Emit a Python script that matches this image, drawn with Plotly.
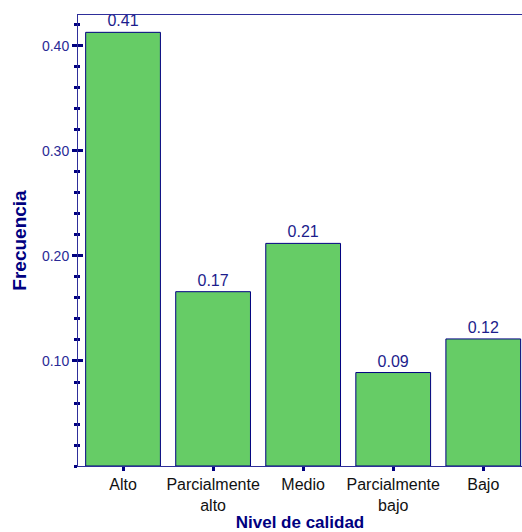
import plotly.graph_objects as go

categories = ["Alto", "Parcialmente<br>alto", "Medio", "Parcialmente<br>bajo", "Bajo"]
frecuencia = [0.413, 0.166, 0.212, 0.089, 0.121]
labels = ["0.41", "0.17", "0.21", "0.09", "0.12"]
ytickvals = [0.1, 0.2, 0.3, 0.4]
yticktext = ["0.10", "0.20", "0.30", "0.40"]

NAVY = "#000080"
AXC = "#2e2e9a"
FONT = "Liberation Sans, Arial, sans-serif"

fig = go.Figure()
fig.add_trace(go.Bar(
    x=list(range(len(categories))), y=frecuencia,
    text=labels, textposition="outside", cliponaxis=False,
    textfont=dict(family=FONT, size=16, color="#1c1c8c"),
    marker=dict(color="#66CC66", line=dict(color=NAVY, width=1)),
    width=0.83, hoverinfo="x+y",
))
fig.add_trace(go.Scatter(
    x=list(range(len(categories))), y=frecuencia, mode="none",
    yaxis="y2", hoverinfo="skip", showlegend=False,
))

yr = [0, 0.4295]
fig.update_layout(
    width=522, height=532,
    margin=dict(l=78, r=0, t=15, b=66, autoexpand=False),
    paper_bgcolor="white", plot_bgcolor="white",
    showlegend=False,
    font=dict(family=FONT),
    xaxis=dict(
        range=[-0.5, 4.43], automargin=False,
        tickvals=list(range(len(categories))), ticktext=categories,
        tickfont=dict(family=FONT, size=16, color="#111111"),
        ticks="outside", ticklen=4, tickwidth=3, tickcolor=NAVY,
        showline=True, linecolor=AXC, linewidth=1, mirror=True,
        showgrid=False, zeroline=False,
        title=dict(text="<b>Nivel de calidad</b>", font=dict(family=FONT, size=17, color=NAVY), standoff=7),
    ),
    yaxis=dict(
        range=yr, automargin=False,
        tickvals=ytickvals, ticktext=yticktext,
        tickfont=dict(family=FONT, size=14, color="#2a2a96"),
        ticks="outside", ticklen=5, tickwidth=3, tickcolor=NAVY,
        minor=dict(dtick=0.02, tick0=0, ticks="outside", ticklen=3, tickwidth=3, tickcolor=NAVY),
        showline=True, linecolor=AXC, linewidth=1,
        showgrid=False, zeroline=False,
        title=dict(text="<b>Frecuencia</b>", font=dict(family=FONT, size=19, color=NAVY), standoff=10),
    ),
    yaxis2=dict(
        range=yr, overlaying="y", side="left",
        tickvals=ytickvals, showticklabels=False,
        ticks="inside", ticklen=5, tickwidth=3, tickcolor=NAVY,
        minor=dict(dtick=0.02, tick0=0, ticks="inside", ticklen=2, tickwidth=3, tickcolor=NAVY),
        showline=False, showgrid=False, zeroline=False,
    ),
)

fig.write_html(
    "out.html",
    config={"displayModeBar": False},
    post_script="document.body.style.margin='0';document.body.style.overflow='hidden';",
)
